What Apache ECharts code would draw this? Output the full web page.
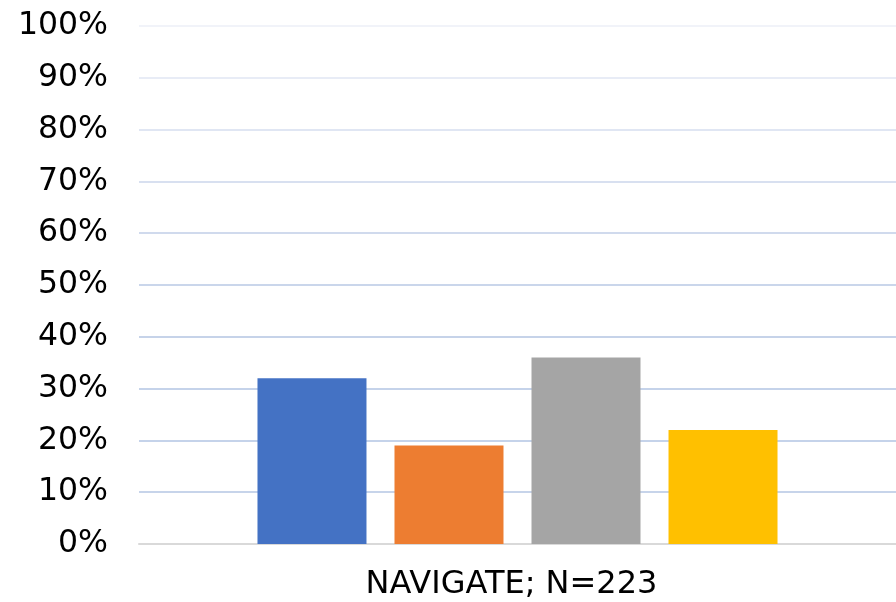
<!DOCTYPE html>
<html>
<head>
<meta charset="utf-8">
<script src="https://cdn.jsdelivr.net/npm/echarts@6/dist/echarts.min.js"></script>
<style>
  html, body { margin: 0; padding: 0; background: #fff; }
  #chart { width: 896px; height: 602px; }
</style>
</head>
<body>
<div id="chart"></div>
<script>
// data
const categories = ['NAVIGATE; N=223'];
const seriesA = [32];
const seriesB = [19];
const seriesC = [36];
const seriesD = [22];
const barColors = ['#4472c4', '#ed7d31', '#a5a5a5', '#ffc000'];

const chart = echarts.init(document.getElementById('chart'));

// gridlines fade out toward the top (0% .. 100%)
const gridColors = ['#d9d9d9', '#c7d4ea', '#c5d3ea', '#c5d3ea', '#c6d3e9', '#cad6eb',
  '#d0daed', '#d8e0f0', '#e0e6f3', '#e8ecf6', '#f1f3f9'];

const bar = (name, data, color) => ({
  name: name,
  type: 'bar',
  data: data,
  barWidth: 109,
  barGap: '25.7%',
  itemStyle: { color: color },
  silent: true
});

const option = {
  animation: false,
  backgroundColor: '#fff',
  grid: { left: 139, right: 0, top: 26, bottom: 58 },
  textStyle: { fontFamily: 'DejaVu Sans' },
  xAxis: {
    type: 'category',
    data: categories,
    axisLine: { lineStyle: { color: '#d9d9d9', width: 2 } },
    axisTick: { show: false },
    axisLabel: { color: '#000', fontSize: 32, margin: 25, padding: [0, 12, 0, 0], fontFamily: 'DejaVu Sans' }
  },
  yAxis: {
    type: 'value',
    min: 0,
    max: 100,
    interval: 10,
    axisLine: { show: false },
    axisTick: { show: false },
    axisLabel: { color: '#000', fontSize: 31.5, margin: 31, formatter: '{value}%', fontFamily: 'DejaVu Sans' },
    splitLine: { lineStyle: { color: gridColors, width: 2 } }
  },
  series: [
    bar('A', seriesA, barColors[0]),
    bar('B', seriesB, barColors[1]),
    bar('C', seriesC, barColors[2]),
    bar('D', seriesD, barColors[3])
  ]
};

chart.setOption(option);
</script>
</body>
</html>
